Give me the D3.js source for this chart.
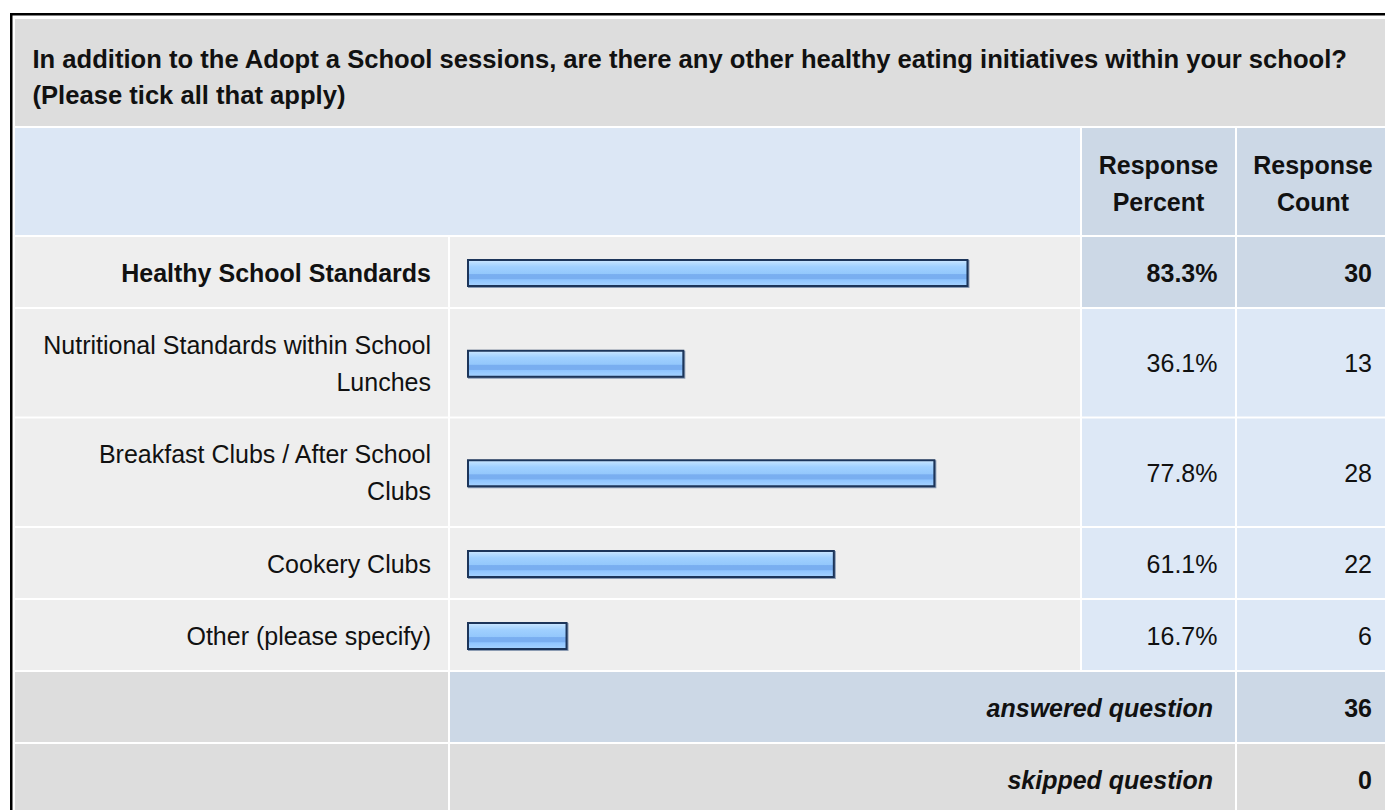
<!DOCTYPE html>
<html>
<head>
<meta charset="utf-8">
<script src="https://cdn.jsdelivr.net/npm/d3@7"></script>
<style>
  html, body { margin: 0; padding: 0; background: #fff; overflow: hidden; }
  svg { display: block; font-family: "Liberation Sans", Arial, sans-serif; }
</style>
</head>
<body>
<script>
const question = "In addition to the Adopt a School sessions, are there any other healthy eating initiatives within your school? (Please tick all that apply)";
const categories = [
  "Healthy School Standards",
  "Nutritional Standards within School Lunches",
  "Breakfast Clubs / After School Clubs",
  "Cookery Clubs",
  "Other (please specify)"
];
const percents = [83.3, 36.1, 77.8, 61.1, 16.7];
const counts = [30, 13, 28, 22, 6];
const headers = ["Response Percent", "Response Count"];
const summaryLabels = ["answered question", "skipped question"];
const summaryValues = [36, 0];

const W = 1385, H = 810;
const FS = 25, LH = 36.8, GAP = 2, PAD = 17;

const svg = d3.select("body").append("svg")
  .attr("width", W).attr("height", H);

// bar gradient
const grad = svg.append("defs").append("linearGradient")
  .attr("id", "barGrad").attr("x1", 0).attr("y1", 0).attr("x2", 0).attr("y2", 1);
[[0, "#cfe8ff"], [0.12, "#b6dcff"], [0.26, "#a0d0ff"], [0.52, "#94c8fc"],
 [0.56, "#79aef0"], [0.72, "#79aef0"], [0.76, "#8fc5ff"], [1, "#a6d3ff"]]
  .forEach(([o, c]) => grad.append("stop").attr("offset", o).attr("stop-color", c));

// columns
const colLabel = [15, 448], colBar = [450, 1080], colPct = [1082, 1235], colCnt = [1237, 1390];
const x = d3.scaleLinear().domain([0, 100]).range([467, 1069]);

// measure + wrap text into lines
const measure = svg.append("text").attr("visibility", "hidden");
function wrap(str, maxW, weight, fs) {
  measure.attr("font-weight", weight).attr("font-size", fs);
  const words = str.split(" ");
  const lines = [];
  let cur = "";
  words.forEach(w => {
    const t = cur ? cur + " " + w : w;
    measure.text(t);
    if (measure.node().getComputedTextLength() > maxW && cur) {
      lines.push(cur); cur = w;
    } else cur = t;
  });
  if (cur) lines.push(cur);
  return lines;
}
const rowH = n => 32.5 + 37.5 * n;

function cell(x0, x1, y0, h, fill) {
  svg.append("rect").attr("x", x0).attr("y", y0)
    .attr("width", x1 - x0).attr("height", h).attr("fill", fill);
}
function label(lines, xPos, cy, anchor, weight, style, fs) {
  const t = svg.append("text")
    .attr("font-size", fs || FS).attr("font-weight", weight || "normal")
    .attr("font-style", style || "normal")
    .attr("fill", "#111").attr("text-anchor", anchor);
  lines.forEach((l, i) => {
    t.append("tspan").attr("x", xPos)
      .attr("y", cy + 9.5 + (i - (lines.length - 1) / 2) * LH)
      .text(l);
  });
}

let y = 19;

// title row
const TFS = 25.6;
const titleLines = wrap(question, colCnt[1] - colLabel[0] - 2 * PAD - 20, "bold", TFS);
const titleH = 107;
cell(colLabel[0], colCnt[1], y, titleH, "#dddddd");
label(titleLines, colLabel[0] + PAD + 0.5, y + titleH / 2 + 4, "start", "bold", null, TFS);
y += titleH + GAP;

// header row
const headH = 107;
cell(colLabel[0], colBar[1], y, headH, "#dce7f5");
[colPct, colCnt].forEach((c, i) => {
  cell(c[0], c[1], y, headH, "#ccd8e6");
  label(headers[i].split(" "), c[0] + (c[1] - c[0]) / 2 + (i ? -0.5 : 0), y + headH / 2 + 1.5, "middle", "bold");
});
y += headH + GAP;

// data rows
const maxPct = d3.max(percents);
categories.forEach((cat, i) => {
  const top = percents[i] === maxPct;
  const weight = top ? "bold" : "normal";
  const lines = wrap(cat, colLabel[1] - colLabel[0] - 2 * PAD, weight, FS);
  const h = rowH(lines.length);
  const cy = y + h / 2;
  cell(colLabel[0], colLabel[1], y, h, "#eeeeee");
  cell(colBar[0], colBar[1], y, h, "#eeeeee");
  cell(colPct[0], colPct[1], y, h, top ? "#ccd8e6" : "#dde8f6");
  cell(colCnt[0], colCnt[1], y, h, top ? "#ccd8e6" : "#dde8f6");
  label(lines, colLabel[1] - PAD, cy, "end", weight);

  const by = cy + 1 - 14;
  svg.append("rect")
    .attr("x", x(0) + 1).attr("y", by + 1)
    .attr("width", x(percents[i]) - x(0)).attr("height", 28)
    .attr("fill", "#8b9bb2");
  svg.append("rect")
    .attr("x", x(0) + 1).attr("y", by + 1)
    .attr("width", x(percents[i]) - x(0) - 2).attr("height", 26)
    .attr("fill", "url(#barGrad)")
    .attr("stroke", "#1c355a").attr("stroke-width", 2);

  label([percents[i].toFixed(1) + "%"], colPct[1] - PAD - 0.5, cy, "end", weight);
  label([String(counts[i])], colCnt[1] - PAD - 1, cy, "end", weight);
  y += h + GAP;
});

// summary rows
summaryLabels.forEach((s, i) => {
  const h = 70;
  const cy = y + h / 2;
  const fill = i === 0 ? "#ccd8e6" : "#dddddd";
  cell(colLabel[0], colLabel[1], y, h, "#dddddd");
  cell(colBar[0], colPct[1], y, h, fill);
  cell(colCnt[0], colCnt[1], y, h, fill);
  label([s], colPct[1] - PAD - 5, cy, "end", "bold", "italic");
  label([String(summaryValues[i])], colCnt[1] - PAD - 1, cy, "end", "bold");
  y += h + GAP;
});

measure.remove();

// outer frame
svg.append("rect")
  .attr("x", 11.25).attr("y", 14.25)
  .attr("width", 1400).attr("height", 820)
  .attr("fill", "none").attr("stroke", "#000").attr("stroke-width", 2.5);
</script>
</body>
</html>
